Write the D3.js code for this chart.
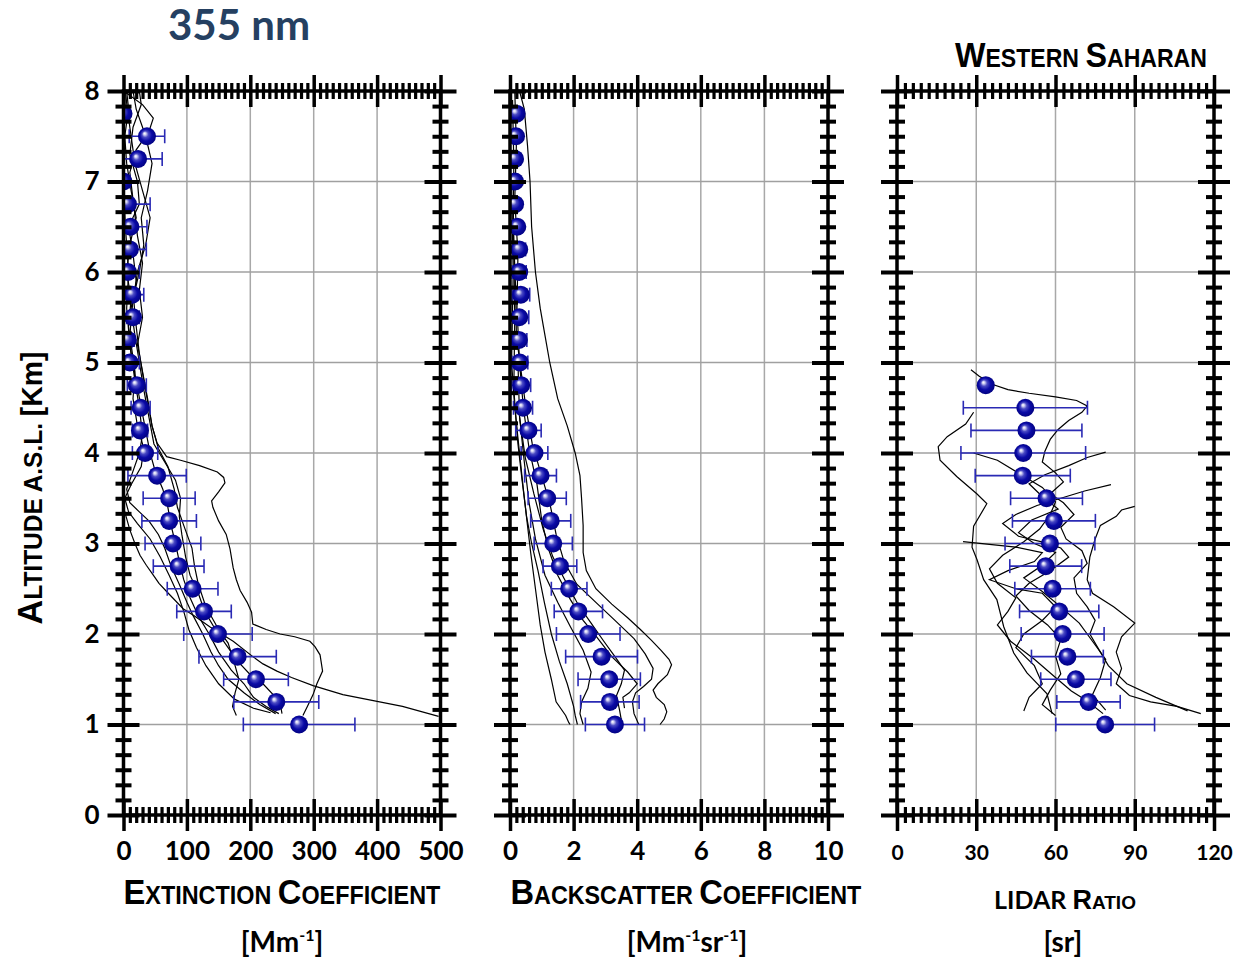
<!DOCTYPE html>
<html>
<head>
<meta charset="utf-8">
<script src="https://cdn.jsdelivr.net/npm/d3@7"></script>
<style>
  body { margin: 0; background: #fff; }
  svg { display: block; }
  .num { font-family: Lato, "Open Sans", sans-serif; font-weight: 700; fill: #000; }
  .caps { font-family: "Liberation Sans", Arial, sans-serif; font-weight: 700; fill: #000; }
</style>
</head>
<body>
<div id="chart"></div>
<script>
// altitude levels of the mean profiles [km]
const altitudes = [1.00, 1.25, 1.50, 1.75, 2.00, 2.25, 2.50, 2.75, 3.00, 3.25, 3.50, 3.75, 4.00, 4.25,
                   4.50, 4.75, 5.00, 5.25, 5.50, 5.75, 6.00, 6.25, 6.50, 6.75, 7.00, 7.25, 7.50, 7.75];
const lrAltitudes = [1.00, 1.25, 1.50, 1.75, 2.00, 2.25, 2.50, 2.75, 3.00, 3.25, 3.50, 3.75, 4.00, 4.25, 4.50, 4.75];

// mean extinction [Mm-1] and its std
const extValues = [277, 241, 209, 180, 149, 127, 109, 87, 78, 72, 72, 53, 34, 26,
                   27, 21, 10, 7, 15, 14, 7, 10, 11, 7, 0, 23, 37, 0];
const extErrors = [88, 67, 51, 61, 54, 43, 40, 40, 44, 43, 41, 46, 20, 12,
                   15, 15, 15, 10, 10, 18, 18, 26, 26, 35, 10, 38, 28, 5];

// mean backscatter [Mm-1 sr-1] and its std
const bscValues = [3.30, 3.14, 3.12, 2.88, 2.46, 2.15, 1.86, 1.57, 1.36, 1.28, 1.17, 0.96, 0.77, 0.58,
                   0.41, 0.35, 0.31, 0.28, 0.29, 0.34, 0.29, 0.29, 0.23, 0.16, 0.16, 0.16, 0.19, 0.21];
const bscErrors = [0.93, 0.92, 0.98, 1.13, 1.00, 0.76, 0.56, 0.53, 0.60, 0.63, 0.60, 0.50, 0.42, 0.40,
                   0.30, 0.30, 0.25, 0.25, 0.30, 0.28, 0.22, 0.20, 0.15, 0.12, 0.10, 0.10, 0.10, 0.10];

// mean lidar ratio [sr] and its std
const lrValues = [78.8, 72.5, 67.7, 64.5, 62.7, 61.4, 58.9, 56.3, 57.9, 59.4, 56.6, 47.6, 47.8, 49.0, 48.6, 33.6];
const lrErrors = [18.7, 12.0, 13.3, 13.6, 15.7, 15.0, 14.3, 13.6, 17.0, 15.7, 13.6, 18.0, 23.6, 21.0, 23.5, 0];

// individual profiles [value, altitude]
const extProfiles = [
  [[497,1.09],[440,1.2],[390,1.27],[346,1.33],[299,1.43],[265,1.52],[242,1.59],[220,1.67],[204,1.75],[173,1.92],[150,2.02],[136,2.08],[112,2.2],[94,2.28],[68,2.47],[56,2.56],[47,2.65],[36,2.76],[26,2.87],[18,3.0],[10,3.15],[4,3.3],[0,3.4]],
  [[283,1.1],[290,1.2],[299,1.33],[305,1.45],[314,1.59],[312,1.68],[310,1.77],[302,1.86],[294,1.92],[270,1.97],[247,2.0],[225,2.05],[204,2.11],[202,2.24],[195,2.35],[184,2.48],[178,2.6],[173,2.73],[168,2.94],[162,3.1],[150,3.25],[141,3.4],[139,3.47],[150,3.57],[160,3.67],[158,3.73],[148,3.79],[120,3.86],[90,3.92],[68,3.96],[53,4.11],[45,4.3],[40,4.5],[32,4.8],[25,5.1],[20,5.4],[16,5.7],[22,6.0],[35,6.3],[42,6.6],[30,6.9],[18,7.2],[12,7.5],[6,7.8],[3,8.0]],
  [[178,1.1],[172,1.2],[176,1.35],[182,1.5],[174,1.7],[165,1.9],[150,2.05],[130,2.3],[118,2.55],[112,2.75],[108,2.95],[95,3.2],[85,3.4],[80,3.6],[70,3.85],[55,4.05],[45,4.3],[38,4.6],[30,4.9],[22,5.2],[30,5.5],[25,5.8],[30,6.1],[22,6.4],[15,6.8],[10,7.1],[20,7.35],[40,7.55],[47,7.7],[30,7.85],[10,7.95],[0,8.0]],
  [[245,1.12],[225,1.2],[205,1.3],[190,1.45],[170,1.6],[150,1.8],[135,2.0],[118,2.2],[105,2.4],[95,2.6],[88,2.8],[82,3.0],[75,3.2],[70,3.4],[62,3.6],[50,3.8],[42,4.0],[35,4.25],[28,4.5],[20,4.8],[12,5.1],[8,5.4],[12,5.7],[5,6.0],[10,6.3],[20,6.6],[12,6.9],[5,7.2],[2,7.5],[8,7.8],[5,8]],
  [[240,1.12],[215,1.22],[190,1.35],[165,1.5],[150,1.65],[138,1.8],[125,2.0],[110,2.2],[100,2.35],[88,2.55],[75,2.75],[65,2.95],[55,3.1],[40,3.25],[25,3.35],[10,3.45],[5,3.6],[15,3.8],[25,4.0],[30,4.2],[25,4.5],[18,4.8],[10,5.2],[5,5.6],[8,6.0],[3,6.5],[0,7.0]],
  [[232,1.13],[205,1.18],[175,1.28],[150,1.45],[130,1.65],[115,1.85],[103,2.05],[95,2.25],[85,2.45],[72,2.65],[58,2.85],[42,3.05],[22,3.22],[8,3.35],[2,3.5],[12,3.65],[28,3.85],[32,4.05],[22,4.3],[15,4.6],[18,4.9],[10,5.3],[15,5.7],[25,6.0],[32,6.3],[28,6.6],[38,6.9],[45,7.2],[35,7.5],[20,7.8],[15,8.0]],
  [[250,1.12],[248,1.2],[240,1.3],[220,1.45],[200,1.55],[180,1.7],[160,1.9],[145,2.05],[128,2.25],[118,2.45],[105,2.65],[98,2.85],[92,3.1],[88,3.3],[90,3.5],[82,3.7],[65,3.9],[48,4.1],[40,4.4],[32,4.7],[25,5.0],[18,5.3],[12,5.6],[20,5.9],[15,6.2],[8,6.5],[25,6.75],[22,7.0],[10,7.3],[15,7.6],[28,7.85],[25,8.0]]
];
const bscProfiles = [
  [[0.3,8.0],[0.45,7.8],[0.55,7.4],[0.63,7.0],[0.68,6.5],[0.8,6.0],[0.95,5.6],[1.05,5.4],[1.25,5.0],[1.5,4.6],[1.8,4.3],[2.05,4.0],[2.2,3.75],[2.25,3.5],[2.3,3.2],[2.3,2.9],[2.4,2.7],[2.7,2.5],[3.2,2.33],[3.7,2.18],[4.1,2.05],[4.45,1.93],[4.75,1.82],[5.0,1.72],[5.08,1.66],[4.95,1.55],[4.65,1.45],[4.5,1.38],[4.6,1.3],[4.85,1.22],[4.93,1.14],[4.85,1.06],[4.72,1.0]],
  [[0.08,7.9],[0.12,7.2],[0.1,6.5],[0.18,5.8],[0.2,5.3],[0.35,4.9],[0.5,4.5],[0.7,4.1],[0.95,3.8],[1.25,3.45],[1.45,3.1],[1.7,2.8],[2.1,2.55],[2.7,2.35],[3.3,2.15],[3.9,1.95],[4.25,1.78],[4.5,1.62],[4.45,1.5],[4.2,1.42],[3.95,1.35],[3.85,1.25],[3.9,1.12],[4.05,1.0]],
  [[0.15,8.0],[0.2,7.4],[0.15,6.8],[0.25,6.2],[0.22,5.6],[0.3,5.0],[0.42,4.5],[0.6,4.05],[0.85,3.65],[1.0,3.25],[1.2,2.95],[1.5,2.65],[1.9,2.38],[2.3,2.15],[2.7,1.98],[3.2,1.75],[3.7,1.58],[4.0,1.45],[3.75,1.35],[3.55,1.3],[3.6,1.18]],
  [[0.05,7.0],[0.1,6.0],[0.05,5.0],[0.15,4.5],[0.3,4.0],[0.42,3.6],[0.55,3.2],[0.65,2.9],[0.8,2.5],[0.95,2.1],[1.1,1.8],[1.3,1.5],[1.45,1.25],[1.75,1.1],[1.85,1.02],[1.89,1.0]],
  [[0.1,6.8],[0.15,5.5],[0.12,4.7],[0.25,4.1],[0.38,3.7],[0.52,3.3],[0.68,3.0],[0.88,2.7],[1.08,2.35],[1.3,2.0],[1.55,1.7],[1.8,1.45],[2.0,1.2],[2.05,1.1],[2.12,1.0]],
  [[0.25,5.0],[0.3,4.4],[0.45,3.9],[0.6,3.45],[0.8,3.05],[1.1,2.65],[1.5,2.35],[1.9,2.08],[2.3,1.82],[2.55,1.58],[2.45,1.4],[2.25,1.25],[2.2,1.12],[2.3,1.0]],
  [[0.3,4.4],[0.48,3.95],[0.75,3.55],[1.05,3.15],[1.35,2.85],[1.75,2.58],[2.15,2.32],[2.55,2.12],[2.95,1.92],[3.3,1.75],[3.6,1.6],[3.5,1.45],[3.35,1.32],[3.45,1.15],[3.5,1.05]]
];
const lrProfiles = [
  [[28,4.92],[31,4.85],[36,4.76],[42,4.7],[50,4.66],[60,4.62],[68,4.58],[72,4.52],[70,4.45],[65,4.36],[61,4.26],[58,4.15],[56,4.02],[55,3.9],[60,3.78],[63,3.68],[58,3.55],[63,3.45],[67,3.32],[62,3.18],[64,3.05],[70,2.92],[72,2.78],[67,2.62],[68,2.45],[72,2.3],[75,2.15],[73,2.0],[76,1.85],[80,1.65],[87,1.45],[98,1.3],[110,1.15]],
  [[29,4.45],[26,4.32],[19,4.18],[15.6,4.07],[16.3,3.92],[22.6,3.74],[30.2,3.55],[34,3.44],[29,3.19],[28.4,2.96],[30.3,2.82],[32.8,2.6],[37.8,2.38],[40.4,2.08],[44.2,1.79],[49.2,1.57],[56.8,1.34],[58.7,1.12]],
  [[90,3.41],[85,3.37],[83,3.3],[77,3.2],[75,3.05],[73,2.85],[72,2.6],[74,2.45],[82,2.3],[90,2.12],[85,1.97],[83,1.8],[85,1.62],[83,1.45],[88,1.32],[96,1.25],[106,1.2],[115,1.12]],
  [[79,4.01],[72,3.95],[65,3.86],[56,3.76],[50,3.66],[55,3.52],[61,3.38],[51,3.26],[46,3.12],[52,3.0],[60,2.9],[55,2.76],[48,2.62],[55,2.47],[62,2.3],[69,2.12],[74,1.92],[79,1.72],[77,1.52],[74,1.33],[79,1.16]],
  [[81,3.65],[71,3.58],[62,3.5],[53,3.42],[45,3.32],[40,3.22],[46,3.08],[56,3.01],[62,2.95],[65,2.85],[58,2.7],[50,2.56],[45,2.42],[50,2.26],[57,2.1],[62,1.94],[60,1.76],[62,1.56],[58,1.38],[55,1.22],[60,1.1]],
  [[29,4.0],[38,3.92],[47,3.76],[55,3.62],[60,3.46],[58,3.32],[54,3.16],[48,3.02],[40,2.87],[35,2.72],[38,2.56],[45,2.4],[42,2.25],[38,2.1],[43,1.92],[52,1.72],[60,1.52],[66,1.37],[72,1.26],[78,1.12]],
  [[25,3.02],[35,2.99],[45,2.96],[55,2.9],[52,2.8],[42,2.7],[35,2.6],[45,2.5],[55,2.45],[60,2.3],[55,2.15],[48,2.0],[45,1.85],[52,1.65],[55,1.45],[50,1.3],[48,1.15]]
];

// tick labels
const altTicks = [0, 1, 2, 3, 4, 5, 6, 7, 8];
const extTicks = [0, 100, 200, 300, 400, 500];
const bscTicks = [0, 2, 4, 6, 8, 10];
const lrTicks = [0, 30, 60, 90, 120];

const width = 1234, height = 960;
const svg = d3.select('#chart').append('svg')
    .attr('width', width)
    .attr('height', height);

// shiny blue ball
const defs = svg.append('defs');
const grad = defs.append('radialGradient')
    .attr('id', 'ball')
    .attr('cx', 0.5).attr('cy', 0.5).attr('r', 0.55)
    .attr('fx', 0.36).attr('fy', 0.34);
[[0, '#ffffff'], [0.12, '#d4d4f4'], [0.32, '#4a4ac4'], [0.6, '#0a0aa6'], [1, '#00007a']]
    .forEach(s => grad.append('stop').attr('offset', s[0]).attr('stop-color', s[1]));

const y = d3.scaleLinear().domain([0, 8]).range([815, 91]);
const minorAlts = d3.range(0, 8.0001, 1 / 6).filter(v => Math.abs(v - Math.round(v)) > 1e-6);

const panels = [
    { id: 'ext', range: [123.5, 440.5], domain: [0, 500], ticks: extTicks, minorStep: 10,
      alts: altitudes, values: extValues, errors: extErrors, profiles: extProfiles, yLabels: true, tickFont: 26 },
    { id: 'bsc', range: [510, 828], domain: [0, 10], ticks: bscTicks, minorStep: 0.2,
      alts: altitudes, values: bscValues, errors: bscErrors, profiles: bscProfiles, yLabels: false, tickFont: 26 },
    { id: 'lr', range: [897, 1214], domain: [0, 120], ticks: lrTicks, minorStep: 3,
      alts: lrAltitudes, values: lrValues, errors: lrErrors, profiles: lrProfiles, yLabels: false, tickFont: 21 }
];

panels.forEach(p => {
    const x = d3.scaleLinear().domain(p.domain).range(p.range);
    const x0 = p.range[0], x1 = p.range[1];
    const g = svg.append('g');

    defs.append('clipPath').attr('id', 'clip-' + p.id)
        .append('rect')
        .attr('x', x0).attr('y', y(8))
        .attr('width', x1 - x0).attr('height', y(0) - y(8));

    // grid
    g.append('g').selectAll('line.v')
        .data(p.ticks.slice(1, -1))
        .join('line')
        .attr('x1', d => x(d)).attr('x2', d => x(d))
        .attr('y1', y(0)).attr('y2', y(8))
        .attr('stroke', '#a8a8a8').attr('stroke-width', 1.5);
    g.append('g').selectAll('line.h')
        .data(altTicks.slice(1, -1))
        .join('line')
        .attr('x1', x0).attr('x2', x1)
        .attr('y1', d => y(d)).attr('y2', d => y(d))
        .attr('stroke', '#a0a0a0').attr('stroke-width', 1.5);

    const plot = g.append('g').attr('clip-path', `url(#clip-${p.id})`);

    // individual profiles
    const line = d3.line().x(d => x(d[0])).y(d => y(d[1]));
    plot.selectAll('path.prof')
        .data(p.profiles)
        .join('path')
        .attr('d', line)
        .attr('fill', 'none')
        .attr('stroke', '#000')
        .attr('stroke-width', 1.2);

    // error bars
    const pts = p.values.map((v, i) => ({ v: v, h: p.alts[i], e: p.errors[i] }));
    const eb = plot.append('g').attr('stroke', '#2a2ab4').attr('stroke-width', 1.6);
    pts.filter(d => d.e > 0).forEach(d => {
        const yy = y(d.h);
        eb.append('line').attr('x1', x(d.v - d.e)).attr('x2', x(d.v + d.e)).attr('y1', yy).attr('y2', yy);
        eb.append('line').attr('x1', x(d.v - d.e)).attr('x2', x(d.v - d.e)).attr('y1', yy - 7).attr('y2', yy + 7);
        eb.append('line').attr('x1', x(d.v + d.e)).attr('x2', x(d.v + d.e)).attr('y1', yy - 7).attr('y2', yy + 7);
    });

    // markers
    plot.selectAll('circle')
        .data(pts)
        .join('circle')
        .attr('cx', d => x(d.v))
        .attr('cy', d => y(d.h))
        .attr('r', 9)
        .attr('fill', 'url(#ball)');

    // axes
    const minorX = d3.range(p.domain[0], p.domain[1] + p.minorStep / 2, p.minorStep)
        .filter(v => !p.ticks.some(t => Math.abs(t - v) < 1e-6));

    const styleAxis = (sel, size, horiz, w) => {
        sel.select('.domain').remove();
        sel.selectAll('.tick line')
            .attr('stroke', '#000')
            .attr('stroke-width', w)
            .attr(horiz ? 'y1' : 'x1', size)
            .attr(horiz ? 'y2' : 'x2', -size);
    };

    // frame
    g.append('rect')
        .attr('x', x0).attr('y', y(8))
        .attr('width', x1 - x0).attr('height', y(0) - y(8))
        .attr('fill', 'none').attr('stroke', '#000').attr('stroke-width', 3.5);

    const leftMinor = g.append('g').attr('transform', `translate(${x0},0)`)
        .call(d3.axisLeft(y).tickValues(minorAlts).tickSize(8).tickFormat(''));
    styleAxis(leftMinor, 8, false, 4);
    const rightMinor = g.append('g').attr('transform', `translate(${x1},0)`)
        .call(d3.axisRight(y).tickValues(minorAlts).tickSize(8).tickFormat(''));
    styleAxis(rightMinor, 8, false, 4);
    const topMinor = g.append('g').attr('transform', `translate(0,${y(8)})`)
        .call(d3.axisTop(x).tickValues(minorX).tickSize(8).tickFormat(''));
    styleAxis(topMinor, 8, true, 3.2);
    const botMinor = g.append('g').attr('transform', `translate(0,${y(0)})`)
        .call(d3.axisBottom(x).tickValues(minorX).tickSize(8).tickFormat(''));
    styleAxis(botMinor, 8, true, 3.2);

    const left = g.append('g').attr('transform', `translate(${x0},0)`)
        .call(d3.axisLeft(y).tickValues(altTicks).tickSize(16).tickPadding(8)
            .tickFormat(p.yLabels ? d3.format('d') : ''));
    styleAxis(left, 16, false, 4);
    left.selectAll('text').attr('class', 'num').style('font-size', '26px').attr('fill', '#000');
    const right = g.append('g').attr('transform', `translate(${x1},0)`)
        .call(d3.axisRight(y).tickValues(altTicks).tickSize(16).tickFormat(''));
    styleAxis(right, 16, false, 4);
    const top = g.append('g').attr('transform', `translate(0,${y(8)})`)
        .call(d3.axisTop(x).tickValues(p.ticks).tickSize(16).tickFormat(''));
    styleAxis(top, 16, true, 3.5);
    const bottom = g.append('g').attr('transform', `translate(0,${y(0)})`)
        .call(d3.axisBottom(x).tickValues(p.ticks).tickSize(16).tickPadding(p.tickFont > 24 ? 11 : 14)
            .tickFormat(d3.format('d')));
    styleAxis(bottom, 16, true, 3.5);
    bottom.selectAll('text').attr('class', 'num').style('font-size', p.tickFont + 'px').attr('fill', '#000');
});

// small-caps titles, squeezed horizontally to the reference width
function capsText(xc, yb, parts, len, rotate) {
    const t = svg.append('text')
        .attr('class', 'caps')
        .attr('x', 0).attr('y', 0);
    parts.forEach(pt => t.append('tspan').style('font-size', pt[1] + 'px').text(pt[0]));
    const w = t.node().getBBox().width;
    const s = len / w;
    if (rotate) {
        t.attr('transform', `translate(${xc},${yb}) rotate(-90) translate(${-len / 2},0) scale(${s},1)`);
    } else {
        t.attr('transform', `translate(${xc - len / 2},${yb}) scale(${s},1)`);
    }
    return t;
}

capsText(282, 904, [['E', 35], ['XTINCTION ', 25], ['C', 35], ['OEFFICIENT', 25]], 317);
capsText(686, 904, [['B', 35], ['ACKSCATTER ', 25], ['C', 35], ['OEFFICIENT', 25]], 351);
capsText(1081, 67, [['W', 35], ['ESTERN ', 25], ['S', 35], ['AHARAN', 25]], 252);
capsText(42, 488, [['A', 35], ['LTITUDE A.S.L. ', 25], ['[Km]', 29]], 273, true);

// LIDAR ratio title
const lrTitle = svg.append('text').attr('x', 1065).attr('y', 909).attr('text-anchor', 'middle');
lrTitle.append('tspan').attr('class', 'num').style('font-size', '25px').text('LIDAR ');
lrTitle.append('tspan').attr('class', 'caps').style('font-size', '27px').text('R');
lrTitle.append('tspan').attr('class', 'caps').style('font-size', '19px').text('ATIO');

// units
function unitText(xc, parts) {
    const t = svg.append('text').attr('class', 'num').attr('x', xc).attr('y', 952)
        .attr('text-anchor', 'middle').style('font-size', '28px');
    parts.forEach(pt => {
        const s = t.append('tspan').text(pt[0]);
        if (pt[1]) s.style('font-size', '16px').attr('baseline-shift', '70%');
    });
}
unitText(282, [['[Mm', 0], ['-1', 1], [']', 0]]);
unitText(687, [['[Mm', 0], ['-1', 1], ['sr', 0], ['-1', 1], [']', 0]]);
unitText(1063, [['[sr]', 0]]);

// wavelength label
svg.append('text')
    .attr('class', 'num')
    .attr('x', 168).attr('y', 40)
    .style('font-size', '42px')
    .style('fill', '#254061')
    .text('355 nm');
</script>
</body>
</html>
